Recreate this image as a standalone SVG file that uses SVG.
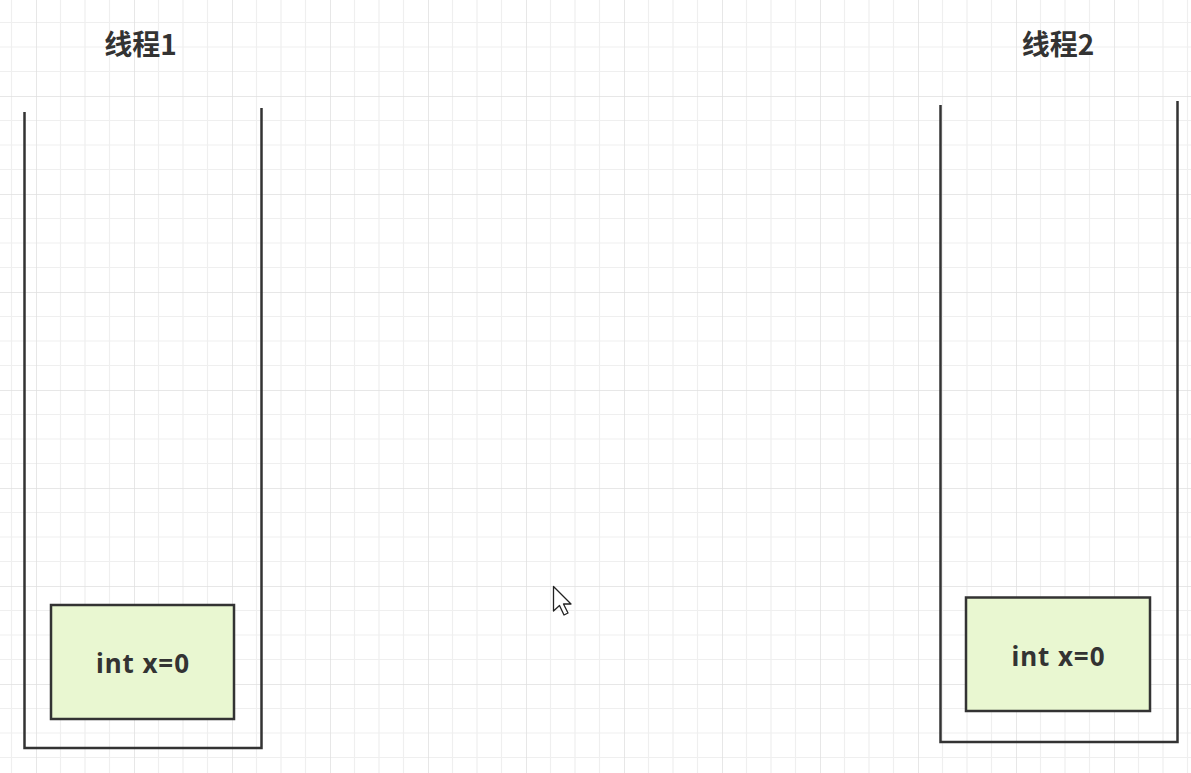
<svg xmlns="http://www.w3.org/2000/svg" width="1191" height="773" viewBox="0 0 1191 773">
  <defs>
    <pattern id="grid" x="36" y="-2" width="98" height="98" patternUnits="userSpaceOnUse">
      <path d="M24.5 0V98M49 0V98M73.5 0V98M0 24.5H98M0 49H98M0 73.5H98" stroke="#efefef" stroke-width="1.2" fill="none"/>
      <path d="M0 0V98M0 0H98" stroke="#e0e0e0" stroke-width="1.5" fill="none"/>
    </pattern>
    <style>
      .stack { fill: none; stroke: #333333; stroke-width: 2.5; stroke-linejoin: miter; }
      .box { fill: #e9f7d1; stroke: #333333; stroke-width: 2.5; }
      .title { font-family: "Noto Sans CJK SC", "Liberation Sans", sans-serif; font-weight: bold; font-size: 28px; fill: #333333; text-anchor: middle; }
      .label { font-family: "Noto Sans", "Liberation Sans", sans-serif; font-weight: bold; font-size: 26px; fill: #333333; text-anchor: middle; }
    </style>
  </defs>
  <rect width="1191" height="773" fill="#ffffff"/>
  <rect width="1191" height="773" fill="url(#grid)"/>

  <g id="thread1">
    <text class="title" x="140.5" y="55">线程1</text>
    <path class="stack" d="M24.5 112V748H261.5V108"/>
    <g id="var1">
      <rect class="box" x="51" y="605" width="183" height="114"/>
      <text class="label" x="142.5" y="673" textLength="93" lengthAdjust="spacing">int x=0</text>
    </g>
  </g>

  <g id="thread2">
    <text class="title" x="1058" y="55">线程2</text>
    <path class="stack" d="M940.5 105V742H1177.5V101"/>
    <g id="var2">
      <rect class="box" x="966" y="597.5" width="184" height="113.5"/>
      <text class="label" x="1058" y="666" textLength="93" lengthAdjust="spacing">int x=0</text>
    </g>
  </g>

  <g id="connectors"></g>

  <path d="M553.5 586.5V611L559.5 605.5L564 615L568 613L563.5 604H571Z" fill="#ffffff" stroke="#222222" stroke-width="1.3" stroke-linejoin="round"/>
</svg>
